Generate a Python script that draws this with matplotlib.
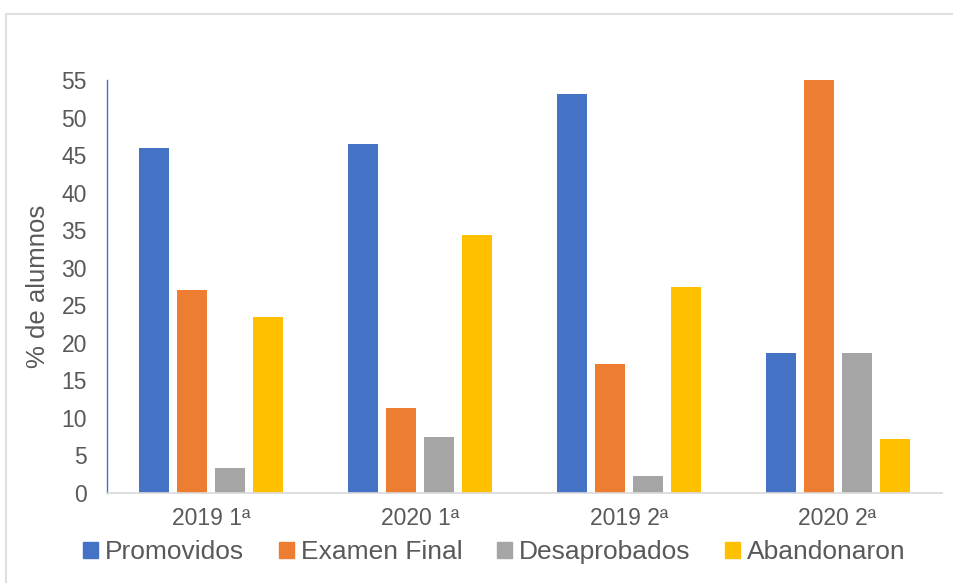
import matplotlib.pyplot as plt
import matplotlib.patches as mpatches
import numpy as np

plt.rcParams['font.family'] = ['Liberation Sans', 'DejaVu Sans']

categories = ['2019 1ª', '2020 1ª', '2019 2ª', '2020 2ª']
series_names = ['Promovidos', 'Examen Final', 'Desaprobados', 'Abandonaron']
promovidos = [45.9, 46.5, 53.2, 18.7]
examen_final = [27.1, 11.3, 17.2, 55.0]
desaprobados = [3.3, 7.5, 2.2, 18.7]
abandonaron = [23.5, 34.4, 27.5, 7.2]
colors = ['#4472C4', '#ED7D31', '#A5A5A5', '#FFC000']

text_color = '#595959'

fig = plt.figure(figsize=(9.54, 5.83), dpi=100)
ax = fig.add_axes([107 / 954, 1 - 493 / 583, (942 - 107) / 954, (493 - 80) / 583])

# outer chart frame (cut off at right/bottom in the original)
frame = mpatches.Rectangle((6 / 954, -0.1), 1.2, 1 - 14 / 583 + 0.1,
                           transform=fig.transFigure, fill=False,
                           edgecolor='#D9D9D9', linewidth=1.2)
fig.patches.append(frame)

x = np.arange(len(categories))
step = 0.182
width = 0.144
for j, (vals, name) in enumerate(zip([promovidos, examen_final, desaprobados, abandonaron],
                                     series_names)):
    ax.bar(x + (j - 1.5) * step, vals, width=width, color=colors[j],
           label=name, zorder=2)

ax.set_xlim(-0.5, len(categories) - 0.5)
ax.set_ylim(0, 55)
ax.set_yticks(np.arange(0, 56, 5))
ax.set_xticks(x)
ax.set_xticklabels(categories)
ax.tick_params(axis='both', length=0, labelsize=16.5, labelcolor=text_color)
ax.tick_params(axis='y', pad=14.5)
ax.tick_params(axis='x', pad=10)

for side in ['top', 'right']:
    ax.spines[side].set_visible(False)
ax.spines['left'].set_color('#4472C4')
ax.spines['left'].set_linewidth(1.0)
ax.spines['bottom'].set_color('#D9D9D9')
ax.spines['bottom'].set_linewidth(1.2)

ax.set_ylabel('% de alumnos', fontsize=18.5, color=text_color, labelpad=8)

handles = [mpatches.Patch(color=c, label=n) for c, n in zip(colors, series_names)]
fig.legend(handles=handles, loc='center', bbox_to_anchor=(0.518, 1 - 552 / 583),
           ncol=4, frameon=False, fontsize=19, labelcolor=text_color,
           handlelength=0.57, handleheight=0.57, handletextpad=0.27,
           columnspacing=1.3, borderpad=0, borderaxespad=0)

fig.savefig('out.png', dpi=100)
